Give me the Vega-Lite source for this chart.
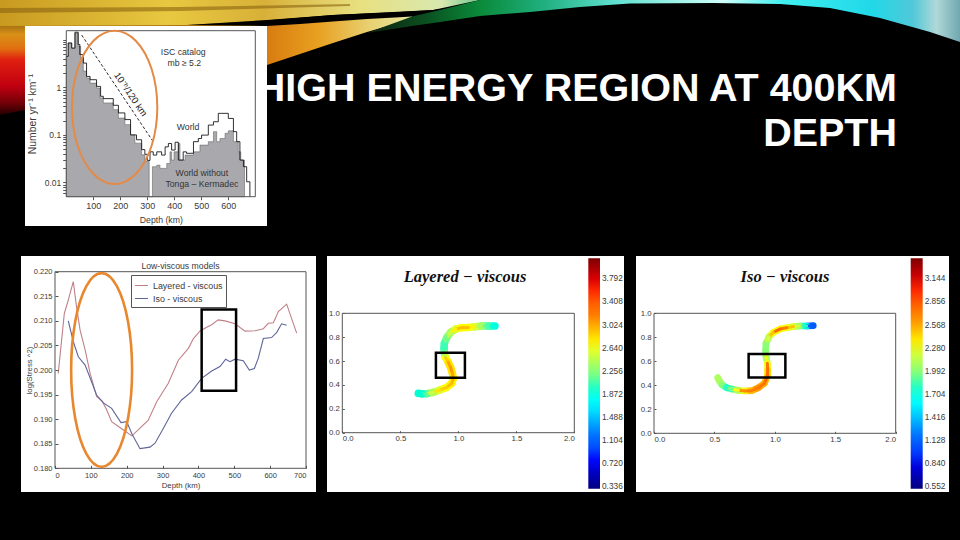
{"$schema":"https://vega.github.io/schema/vega-lite/v6.json","width":960,"height":540,"autosize":{"type":"none"},"padding":0,"background":"#000000",
"title":{"text":["HIGH ENERGY REGION AT 400KM","DEPTH"],"anchor":"end","frame":"group","orient":"top","align":"right","baseline":"alphabetic","offset":-82.5,"dx":-63,"dy":103,"font":"Liberation Sans","fontWeight":"bold","fontSize":39.5,"lineHeight":45,"color":"#ffffff"},
"config":{"view":{"stroke":null},"axis":{"grid":false,"domain":false,"labelFont":"Liberation Sans","titleFont":"Liberation Sans","labelColor":"#3a3a3a","titleColor":"#3a3a3a","tickColor":"#555555","titleFontWeight":"normal","labelFontSize":7.8,"titleFontSize":7.8},"legend":{"labelFont":"Liberation Sans"},"text":{"font":"Liberation Sans","color":"#3a3a3a"}},
"resolve":{"scale":{"x":"independent","y":"independent","color":"independent"},"axis":{"x":"independent","y":"independent"},"legend":{"color":"independent"}},
"layer":[
{"encoding":{"x":{"field":"x","type":"quantitative","scale":{"domain":[0,960],"range":[0,960]},"axis":null},"y":{"field":"y","type":"quantitative","scale":{"domain":[0,540],"range":[0,540]},"axis":null},"y2":{"field":"y2"}},
"layer":[
{"data":{"values":[{"x":0,"y":0,"y2":115},{"x":25,"y":0,"y2":110},{"x":130,"y":0,"y2":90},{"x":267,"y":0,"y2":65}]},"mark":{"type":"area","color":{"gradient":"linear","x1":0,"y1":0,"x2":0,"y2":1,"stops":[{"offset":0,"color":"#b89018"},{"offset":0.1,"color":"#e8c038"},{"offset":0.2,"color":"#9a6a10"},{"offset":0.3,"color":"#d89018"},{"offset":0.42,"color":"#e07010"},{"offset":0.52,"color":"#e02010"},{"offset":0.75,"color":"#c00010"},{"offset":0.9,"color":"#700008"},{"offset":1,"color":"#200000"}]}}},
{"data":{"values":[{"x":0,"y":0,"y2":26},{"x":187,"y":0,"y2":25},{"x":260,"y":0,"y2":21},{"x":333,"y":0,"y2":15},{"x":433,"y":0,"y2":10},{"x":480,"y":0,"y2":0}]},"mark":{"type":"area","color":{"gradient":"linear","x1":0,"y1":0,"x2":1,"y2":0,"stops":[{"offset":0,"color":"#c89a20"},{"offset":0.35,"color":"#e8c840"},{"offset":0.55,"color":"#d8b038"},{"offset":0.75,"color":"#e8e080"},{"offset":0.92,"color":"#d8e8b0"},{"offset":1,"color":"#70c890"}]}}},
{"data":{"values":[{"x":0,"y":8,"y2":13},{"x":180,"y":7,"y2":11},{"x":350,"y":4,"y2":6}]},"mark":{"type":"area","color":"#8a6410","opacity":0.6}},
{"data":{"values":[{"x":187,"y":25,"y2":25},{"x":267,"y":20,"y2":26},{"x":333,"y":15,"y2":22},{"x":400,"y":12,"y2":17},{"x":433,"y":10,"y2":15},{"x":470,"y":5,"y2":10}]},"mark":{"type":"area","color":"#000000"}},
{"data":{"values":[{"x":267,"y":26,"y2":65},{"x":300,"y":24,"y2":54},{"x":333,"y":21.5,"y2":43},{"x":367,"y":19,"y2":32},{"x":395,"y":17.5,"y2":24},{"x":412,"y":16.5,"y2":17}]},"mark":{"type":"area","color":{"gradient":"linear","x1":0,"y1":0,"x2":1,"y2":0,"stops":[{"offset":0,"color":"#d87c10"},{"offset":0.35,"color":"#e8a020"},{"offset":0.7,"color":"#e8d070"},{"offset":1,"color":"#e8e8a0"}]}}},
{"data":{"values":[{"x":367,"y":33,"y2":33},{"x":412,"y":16.5,"y2":26},{"x":440,"y":10,"y2":22},{"x":480,"y":0,"y2":16},{"x":530,"y":0,"y2":12},{"x":580,"y":0,"y2":7},{"x":630,"y":0,"y2":3.5},{"x":713,"y":0,"y2":3},{"x":780,"y":0,"y2":4},{"x":830,"y":0,"y2":8},{"x":880,"y":0,"y2":18},{"x":930,"y":0,"y2":32},{"x":960,"y":0,"y2":42}]},"mark":{"type":"area","color":{"gradient":"linear","x1":0,"y1":0,"x2":1,"y2":0,"stops":[{"offset":0,"color":"#102010"},{"offset":0.1,"color":"#0a5020"},{"offset":0.19,"color":"#0a8a3a"},{"offset":0.3,"color":"#20b080"},{"offset":0.42,"color":"#60e0d0"},{"offset":0.6,"color":"#d0fffa"},{"offset":0.7,"color":"#40f0f0"},{"offset":0.85,"color":"#20d8e8"},{"offset":0.92,"color":"#50c8d8"},{"offset":0.96,"color":"#b0d8d8"},{"offset":1,"color":"#70a8b0"}]}}},
{"data":{"values":[{"x":25,"x2":267,"y":26,"y2":226},{"x":21,"x2":316,"y":256,"y2":492},{"x":327,"x2":624,"y":256,"y2":492},{"x":636,"x2":949,"y":256,"y2":492}]},"mark":{"type":"rect","color":"#ffffff"},"encoding":{"x2":{"field":"x2"}}}
]},
{"encoding":{"x":{"field":"x","type":"quantitative","scale":{"domain":[0,700],"range":[66.3,255.3]},"axis":{"orient":"bottom","offset":-343.3,"zindex":1,"values":[100,200,300,400,500,600],"title":"Depth (km)","labelFontSize":9,"titleFontSize":8.7,"tickSize":3,"titlePadding":5}},"y":{"field":"y","type":"quantitative","scale":{"type":"log","domain":[0.005,15.6],"range":[196.7,30.7]},"axis":{"orient":"left","offset":-65.7,"zindex":1,"values":[0.006,0.007,0.008,0.009,0.01,0.02,0.03,0.04,0.05,0.06,0.07,0.08,0.09,0.1,0.2,0.3,0.4,0.5,0.6,0.7,0.8,0.9,1,2,3,4,5,6,7,8,9,10],"labelExpr":"datum.value==1?'1':datum.value==0.1?'0.1':datum.value==0.01?'0.01':''","title":"Number yr⁻¹ km⁻¹","labelFontSize":8.5,"titleFontSize":10.4,"tickSize":3,"labelOverlap":false,"titlePadding":7}}},
"layer":[
{"data":{"values":[{"x":0,"y":4.5},{"x":7,"y":8.6},{"x":20,"y":6.7},{"x":32,"y":13.9},{"x":44,"y":7.3},{"x":53,"y":4.1},{"x":63,"y":2.2},{"x":75,"y":1.57},{"x":88,"y":1.23},{"x":112,"y":0.97},{"x":125,"y":0.6},{"x":137,"y":0.47},{"x":174,"y":0.34},{"x":193,"y":0.226},{"x":217,"y":0.164},{"x":238,"y":0.1},{"x":254,"y":0.067},{"x":279,"y":0.038},{"x":291,"y":0.0275},{"x":307,"y":0.005},{"x":319,"y":0.0214},{"x":335,"y":0.023},{"x":347,"y":0.0197},{"x":372,"y":0.025},{"x":384,"y":0.044},{"x":390,"y":0.0295},{"x":399,"y":0.044},{"x":415,"y":0.066},{"x":421,"y":0.0295},{"x":440,"y":0.0376},{"x":471,"y":0.044},{"x":495,"y":0.061},{"x":526,"y":0.072},{"x":545,"y":0.117},{"x":557,"y":0.072},{"x":569,"y":0.084},{"x":588,"y":0.108},{"x":600,"y":0.122},{"x":619,"y":0.072},{"x":637,"y":0.044},{"x":646,"y":0.0295},{"x":660,"y":0.005}]},"mark":{"type":"area","interpolate":"step-after","color":"#a9a9ad","stroke":"#555555","strokeWidth":0.5},"encoding":{"y2":{"datum":0.005}}},
{"data":{"values":[{"x":0,"y":4.5},{"x":7,"y":8.6},{"x":20,"y":6.7},{"x":32,"y":14.5},{"x":44,"y":8},{"x":50,"y":4.9},{"x":63,"y":3.25},{"x":75,"y":1.7},{"x":88,"y":1.45},{"x":112,"y":1.05},{"x":127,"y":0.65},{"x":137,"y":0.58},{"x":174,"y":0.42},{"x":193,"y":0.29},{"x":217,"y":0.21},{"x":238,"y":0.1},{"x":260,"y":0.079},{"x":279,"y":0.049},{"x":291,"y":0.039},{"x":300,"y":0.029},{"x":310,"y":0.044},{"x":322,"y":0.0376},{"x":335,"y":0.044},{"x":353,"y":0.0376},{"x":366,"y":0.056},{"x":378,"y":0.066},{"x":390,"y":0.048},{"x":403,"y":0.07},{"x":415,"y":0.0295},{"x":433,"y":0.044},{"x":445,"y":0.041},{"x":471,"y":0.072},{"x":489,"y":0.084},{"x":501,"y":0.099},{"x":526,"y":0.161},{"x":545,"y":0.189},{"x":563,"y":0.284},{"x":576,"y":0.284},{"x":600,"y":0.222},{"x":619,"y":0.117},{"x":631,"y":0.072},{"x":643,"y":0.0295},{"x":656,"y":0.0214},{"x":668,"y":0.0103},{"x":680,"y":0.005}]},"mark":{"type":"line","interpolate":"step-after","color":"#1a1a1a","strokeWidth":0.9}},
{"data":{"values":[{"x":57,"y":12.6},{"x":322,"y":0.0718}]},"mark":{"type":"line","color":"#111111","strokeWidth":0.9,"strokeDash":[3,2]}},
{"data":{"values":[{"x":0,"x2":700,"y":0.005,"y2":15.6}]},"mark":{"type":"rect","fill":null,"stroke":"#555555","strokeWidth":1},"encoding":{"x2":{"field":"x2"},"y2":{"field":"y2"}}},
{"data":{"values":[{"x":433,"y":5.46,"t":"ISC catalog"},{"x":437,"y":3.2,"t":"mb ≥ 5.2"},{"x":451,"y":0.1486,"t":"World"},{"x":502,"y":0.0155,"t":"World without"},{"x":502,"y":0.00908,"t":"Tonga – Kermadec"}]},"mark":{"type":"text","fontSize":8.7,"color":"#333333"},"encoding":{"text":{"field":"t"}}},
{"data":{"values":[{"x":238,"y":0.713,"t":"10⁻ʰ/120 km"}]},"mark":{"type":"text","fontSize":9.5,"angle":56,"color":"#222222"},"encoding":{"text":{"field":"t"}}},
{"data":{"values":[{"i":0,"x":337,"y":0.38},{"i":1,"x":316,"y":0.059},{"i":2,"x":258,"y":0.0152},{"i":3,"x":179,"y":0.0092},{"i":4,"x":100,"y":0.0152},{"i":5,"x":42,"y":0.059},{"i":6,"x":21,"y":0.38},{"i":7,"x":42,"y":2.44},{"i":8,"x":100,"y":9.5},{"i":9,"x":179,"y":15.6},{"i":10,"x":258,"y":9.5},{"i":11,"x":316,"y":2.44}]},"mark":{"type":"line","interpolate":"cardinal-closed","color":"#e58a45","strokeWidth":2},"encoding":{"order":{"field":"i"}}}
]},
{"encoding":{"x":{"field":"x","type":"quantitative","scale":{"domain":[0,700],"range":[55,306]},"axis":{"orient":"bottom","offset":-71.7,"zindex":1,"values":[0,100,200,300,400,500,600,700],"title":"Depth (km)","labelFontSize":7.5,"titleFontSize":7.8,"tickSize":-3,"labelPadding":6,"titlePadding":3}},"y":{"field":"y","type":"quantitative","scale":{"domain":[0.18,0.22],"range":[468.3,271.7]},"axis":{"orient":"left","offset":-55,"zindex":1,"values":[0.18,0.185,0.19,0.195,0.2,0.205,0.21,0.215,0.22],"format":".3f","title":"log(Stress ^2)","labelFontSize":7.5,"titleFontSize":7.8,"tickSize":-3,"labelPadding":6,"titlePadding":0}}},
"layer":[
{"data":{"values":[{"x":0,"x2":700,"y":0.18,"y2":0.22}]},"mark":{"type":"rect","fill":null,"stroke":"#555555","strokeWidth":1},"encoding":{"x2":{"field":"x2"},"y2":{"field":"y2"}}},
{"data":{"values":[{"s":"Layered - viscous","x":9,"y":0.1993},{"s":"Layered - viscous","x":26,"y":0.2115},{"s":"Layered - viscous","x":37,"y":0.2142},{"s":"Layered - viscous","x":51,"y":0.218},{"s":"Layered - viscous","x":60,"y":0.2129},{"s":"Layered - viscous","x":70,"y":0.2081},{"s":"Layered - viscous","x":84,"y":0.2041},{"s":"Layered - viscous","x":98,"y":0.1993},{"s":"Layered - viscous","x":116,"y":0.1946},{"s":"Layered - viscous","x":132,"y":0.1936},{"s":"Layered - viscous","x":144,"y":0.1919},{"s":"Layered - viscous","x":158,"y":0.1895},{"s":"Layered - viscous","x":177,"y":0.1885},{"s":"Layered - viscous","x":195,"y":0.1876},{"s":"Layered - viscous","x":214,"y":0.1866},{"s":"Layered - viscous","x":232,"y":0.1878},{"s":"Layered - viscous","x":260,"y":0.1898},{"s":"Layered - viscous","x":284,"y":0.1936},{"s":"Layered - viscous","x":316,"y":0.1973},{"s":"Layered - viscous","x":344,"y":0.202},{"s":"Layered - viscous","x":372,"y":0.2044},{"s":"Layered - viscous","x":386,"y":0.2064},{"s":"Layered - viscous","x":404,"y":0.2079},{"s":"Layered - viscous","x":423,"y":0.2087},{"s":"Layered - viscous","x":437,"y":0.2092},{"s":"Layered - viscous","x":455,"y":0.2102},{"s":"Layered - viscous","x":474,"y":0.21},{"s":"Layered - viscous","x":502,"y":0.2094},{"s":"Layered - viscous","x":530,"y":0.2079},{"s":"Layered - viscous","x":558,"y":0.208},{"s":"Layered - viscous","x":581,"y":0.2084},{"s":"Layered - viscous","x":595,"y":0.2095},{"s":"Layered - viscous","x":609,"y":0.2096},{"s":"Layered - viscous","x":623,"y":0.2119},{"s":"Layered - viscous","x":646,"y":0.2134},{"s":"Layered - viscous","x":674,"y":0.2075},
{"s":"Iso - viscous","x":37,"y":0.21},{"s":"Iso - viscous","x":51,"y":0.2058},{"s":"Iso - viscous","x":65,"y":0.2027},{"s":"Iso - viscous","x":84,"y":0.201},{"s":"Iso - viscous","x":102,"y":0.1976},{"s":"Iso - viscous","x":116,"y":0.1949},{"s":"Iso - viscous","x":135,"y":0.1933},{"s":"Iso - viscous","x":158,"y":0.1922},{"s":"Iso - viscous","x":184,"y":0.1893},{"s":"Iso - viscous","x":200,"y":0.1895},{"s":"Iso - viscous","x":214,"y":0.1871},{"s":"Iso - viscous","x":237,"y":0.184},{"s":"Iso - viscous","x":265,"y":0.1843},{"s":"Iso - viscous","x":279,"y":0.1851},{"s":"Iso - viscous","x":302,"y":0.1881},{"s":"Iso - viscous","x":325,"y":0.1912},{"s":"Iso - viscous","x":353,"y":0.1939},{"s":"Iso - viscous","x":381,"y":0.1956},{"s":"Iso - viscous","x":409,"y":0.1983},{"s":"Iso - viscous","x":437,"y":0.1998},{"s":"Iso - viscous","x":460,"y":0.2007},{"s":"Iso - viscous","x":476,"y":0.2022},{"s":"Iso - viscous","x":488,"y":0.2017},{"s":"Iso - viscous","x":502,"y":0.2022},{"s":"Iso - viscous","x":525,"y":0.2019},{"s":"Iso - viscous","x":542,"y":0.2},{"s":"Iso - viscous","x":556,"y":0.2003},{"s":"Iso - viscous","x":567,"y":0.2024},{"s":"Iso - viscous","x":581,"y":0.2064},{"s":"Iso - viscous","x":604,"y":0.2066},{"s":"Iso - viscous","x":618,"y":0.2076},{"s":"Iso - viscous","x":632,"y":0.2094},{"s":"Iso - viscous","x":646,"y":0.2091}]},"mark":{"type":"line","strokeWidth":1.1},"encoding":{"color":{"field":"s","type":"nominal","scale":{"domain":["Layered - viscous","Iso - viscous"],"range":["#c08088","#5f6599"]},"legend":{"orient":"none","legendX":131,"legendY":275,"title":null,"symbolType":"stroke","symbolSize":170,"symbolStrokeWidth":1,"labelFontSize":8.9,"labelColor":"#3a3a3a","strokeColor":"#555555","fillColor":"#ffffff","padding":3,"rowPadding":0}}}},
{"data":{"values":[{"x":350,"y":0.2212,"t":"Low-viscous models"}]},"mark":{"type":"text","fontSize":8.7},"encoding":{"text":{"field":"t"}}},
{"data":{"values":[{"x":409,"x2":505,"y":0.1958,"y2":0.2123}]},"mark":{"type":"rect","fill":null,"stroke":"#000000","strokeWidth":2.5},"encoding":{"x2":{"field":"x2"},"y2":{"field":"y2"}}},
{"data":{"values":[{"i":0,"x":215,"y":0.2},{"i":1,"x":203.6,"y":0.20985},{"i":2,"x":172.5,"y":0.21706},{"i":3,"x":130,"y":0.2197},{"i":4,"x":87.5,"y":0.21706},{"i":5,"x":56.4,"y":0.20985},{"i":6,"x":45,"y":0.2},{"i":7,"x":56.4,"y":0.19015},{"i":8,"x":87.5,"y":0.18294},{"i":9,"x":130,"y":0.1803},{"i":10,"x":172.5,"y":0.18294},{"i":11,"x":203.6,"y":0.19015}]},"mark":{"type":"line","interpolate":"cardinal-closed","color":"#e8872d","strokeWidth":2.6},"encoding":{"order":{"field":"i"}}}
]},
{"encoding":{"x":{"field":"x","type":"quantitative","scale":{"domain":[0,2],"range":[342.3,574.3]},"axis":{"orient":"bottom","offset":-107.3,"zindex":1,"values":[0,0.5,1,1.5,2],"format":".1f","title":null,"tickSize":-2,"labelPadding":4}},"y":{"field":"y","type":"quantitative","scale":{"domain":[0,1],"range":[432.7,313.3]},"axis":{"orient":"left","offset":-342.3,"zindex":1,"values":[0,0.2,0.4,0.6,0.8,1],"format":".1f","title":null,"tickSize":-2,"labelPadding":5}}},
"layer":[
{"data":{"values":[{"x":0,"x2":2,"y":0,"y2":1}]},"mark":{"type":"rect","fill":null,"stroke":"#555555","strokeWidth":1},"encoding":{"x2":{"field":"x2"},"y2":{"field":"y2"}}},
{"data":{"name":"seg1","values":[{"x":1.316,"y":0.894,"x2":1.259,"y2":0.894,"v":1.9,"c":1.9},{"x":1.259,"y":0.894,"x2":1.202,"y2":0.894,"v":2.1,"c":2.1},{"x":1.202,"y":0.894,"x2":1.144,"y2":0.888,"v":2.4,"c":2.4},{"x":1.144,"y":0.888,"x2":1.086,"y2":0.882,"v":2.6,"c":2.75},{"x":1.086,"y":0.882,"x2":1.029,"y2":0.88,"v":2.7,"c":2.95},{"x":1.029,"y":0.88,"x2":0.98,"y2":0.869,"v":2.7,"c":2.95},{"x":0.98,"y":0.869,"x2":0.934,"y2":0.841,"v":2.6,"c":2.75},{"x":0.934,"y":0.841,"x2":0.9,"y2":0.796,"v":2.4,"c":2.5},{"x":0.9,"y":0.796,"x2":0.88,"y2":0.748,"v":2.2,"c":2.2},{"x":0.88,"y":0.748,"x2":0.877,"y2":0.707,"v":2.05,"c":2.05},{"x":0.877,"y":0.707,"x2":0.88,"y2":0.665,"v":2.05,"c":2.05},{"x":0.88,"y":0.665,"x2":0.891,"y2":0.628,"v":2.3,"c":2.4},{"x":0.891,"y":0.628,"x2":0.914,"y2":0.589,"v":2.7,"c":2.9},{"x":0.914,"y":0.589,"x2":0.934,"y2":0.545,"v":2.8,"c":3.05},{"x":0.934,"y":0.545,"x2":0.949,"y2":0.497,"v":2.8,"c":3.1},{"x":0.949,"y":0.497,"x2":0.957,"y2":0.455,"v":2.8,"c":3.05},{"x":0.957,"y":0.455,"x2":0.943,"y2":0.413,"v":2.75,"c":3},{"x":0.943,"y":0.413,"x2":0.9,"y2":0.38,"v":2.75,"c":2.95},{"x":0.9,"y":0.38,"x2":0.842,"y2":0.358,"v":2.7,"c":2.9},{"x":0.842,"y":0.358,"x2":0.785,"y2":0.338,"v":2.6,"c":2.8},{"x":0.785,"y":0.338,"x2":0.727,"y2":0.327,"v":2.4,"c":2.5},{"x":0.727,"y":0.327,"x2":0.684,"y2":0.327,"v":2.1,"c":2.1},{"x":0.684,"y":0.327,"x2":0.655,"y2":0.33,"v":1.95,"c":1.95}]},"mark":{"type":"rule","strokeWidth":7.5,"strokeCap":"round"},"encoding":{"x2":{"field":"x2"},"y2":{"field":"y2"},"color":{"field":"v","type":"quantitative","scale":{"domain":[0.314,0.792,1.271,1.749,2.227,2.705,3.184,3.662,4.14],"range":["#00007f","#0000ff","#007fff","#00ffff","#7fff7f","#ffff00","#ff7f00","#ff0000","#7f0000"]},"legend":{"orient":"none","legendX":588.3,"legendY":258.3,"direction":"vertical","title":null,"gradientLength":230.4,"gradientThickness":11.7,"values":[0.336,0.72,1.104,1.488,1.872,2.256,2.64,3.024,3.408,3.792],"format":".3f","labelFontSize":8.3,"labelColor":"#3a3a3a","labelOverlap":false,"labelOffset":2,"padding":0}}}},
{"data":{"name":"seg1"},"mark":{"type":"rule","strokeWidth":3,"strokeCap":"round"},"encoding":{"x2":{"field":"x2"},"y2":{"field":"y2"},"color":{"field":"c","type":"quantitative","scale":{"domain":[0.314,0.792,1.271,1.749,2.227,2.705,3.184,3.662,4.14],"range":["#00007f","#0000ff","#007fff","#00ffff","#7fff7f","#ffff00","#ff7f00","#ff0000","#7f0000"]},"legend":null}}},
{"data":{"values":[{"x":0.807,"x2":1.057,"y":0.461,"y2":0.67}]},"mark":{"type":"rect","fill":null,"stroke":"#000000","strokeWidth":2.5},"encoding":{"x2":{"field":"x2"},"y2":{"field":"y2"}}},
{"data":{"values":[{"x":1.058,"y":1.306,"t":"Layered − viscous"}]},"mark":{"type":"text","font":"Liberation Serif","fontStyle":"italic","fontWeight":"bold","fontSize":16.5,"color":"#111111"},"encoding":{"text":{"field":"t"}}}
]},
{"encoding":{"x":{"field":"x","type":"quantitative","scale":{"domain":[0,2],"range":[654,895.7]},"axis":{"orient":"bottom","offset":-106.7,"zindex":1,"values":[0,0.5,1,1.5,2],"format":".1f","title":null,"tickSize":-2,"labelPadding":4}},"y":{"field":"y","type":"quantitative","scale":{"domain":[0,1],"range":[433.3,313.3]},"axis":{"orient":"left","offset":-654,"zindex":1,"values":[0,0.2,0.4,0.6,0.8,1],"format":".1f","title":null,"tickSize":-2,"labelPadding":5}}},
"layer":[
{"data":{"values":[{"x":0,"x2":2,"y":0,"y2":1}]},"mark":{"type":"rect","fill":null,"stroke":"#555555","strokeWidth":1},"encoding":{"x2":{"field":"x2"},"y2":{"field":"y2"}}},
{"data":{"name":"seg2","values":[{"x":1.318,"y":0.897,"x2":1.263,"y2":0.894,"v":1.1,"c":1.1},{"x":1.263,"y":0.894,"x2":1.208,"y2":0.894,"v":1.7,"c":1.8},{"x":1.208,"y":0.894,"x2":1.153,"y2":0.889,"v":2.1,"c":2.2},{"x":1.153,"y":0.889,"x2":1.098,"y2":0.88,"v":2.25,"c":2.5},{"x":1.098,"y":0.88,"x2":1.043,"y2":0.869,"v":2.3,"c":2.7},{"x":1.043,"y":0.869,"x2":0.987,"y2":0.841,"v":2.35,"c":2.8},{"x":0.987,"y":0.841,"x2":0.952,"y2":0.805,"v":2.3,"c":2.5},{"x":0.952,"y":0.805,"x2":0.927,"y2":0.75,"v":2.15,"c":2.2},{"x":0.927,"y":0.75,"x2":0.924,"y2":0.694,"v":2,"c":2},{"x":0.924,"y":0.694,"x2":0.927,"y2":0.639,"v":2,"c":2},{"x":0.927,"y":0.639,"x2":0.938,"y2":0.583,"v":2.1,"c":2.3},{"x":0.938,"y":0.583,"x2":0.941,"y2":0.528,"v":2.3,"c":2.75},{"x":0.941,"y":0.528,"x2":0.938,"y2":0.472,"v":2.4,"c":2.8},{"x":0.938,"y":0.472,"x2":0.913,"y2":0.416,"v":2.5,"c":2.8},{"x":0.913,"y":0.416,"x2":0.863,"y2":0.38,"v":2.55,"c":2.75},{"x":0.863,"y":0.38,"x2":0.808,"y2":0.355,"v":2.6,"c":2.7},{"x":0.808,"y":0.355,"x2":0.753,"y2":0.3525,"v":2.5,"c":2.7},{"x":0.753,"y":0.3525,"x2":0.698,"y2":0.358,"v":2.3,"c":2.65},{"x":0.698,"y":0.358,"x2":0.643,"y2":0.369,"v":2.1,"c":2.3},{"x":0.643,"y":0.369,"x2":0.601,"y2":0.38,"v":1.85,"c":1.95},{"x":0.601,"y":0.38,"x2":0.565,"y2":0.4025,"v":1.8,"c":1.8},{"x":0.565,"y":0.4025,"x2":0.541,"y2":0.436,"v":2,"c":2},{"x":0.541,"y":0.436,"x2":0.527,"y2":0.464,"v":2.1,"c":2.1}]},"mark":{"type":"rule","strokeWidth":6.7,"strokeCap":"round"},"encoding":{"x2":{"field":"x2"},"y2":{"field":"y2"},"color":{"field":"v","type":"quantitative","scale":{"domain":[0.535,0.894,1.253,1.612,1.971,2.329,2.688,3.047,3.406],"range":["#00007f","#0000ff","#007fff","#00ffff","#7fff7f","#ffff00","#ff7f00","#ff0000","#7f0000"]},"legend":{"orient":"none","legendX":910.7,"legendY":258.3,"direction":"vertical","title":null,"gradientLength":230.4,"gradientThickness":12,"values":[0.552,0.84,1.128,1.416,1.704,1.992,2.28,2.568,2.856,3.144],"format":".3f","labelFontSize":8.3,"labelColor":"#3a3a3a","labelOverlap":false,"labelOffset":2,"padding":0}}}},
{"data":{"name":"seg2"},"mark":{"type":"rule","strokeWidth":3,"strokeCap":"round"},"encoding":{"x2":{"field":"x2"},"y2":{"field":"y2"},"color":{"field":"c","type":"quantitative","scale":{"domain":[0.535,0.894,1.253,1.612,1.971,2.329,2.688,3.047,3.406],"range":["#00007f","#0000ff","#007fff","#00ffff","#7fff7f","#ffff00","#ff7f00","#ff0000","#7f0000"]},"legend":null}}},
{"data":{"values":[{"x":0.783,"x2":1.087,"y":0.464,"y2":0.661}]},"mark":{"type":"rect","fill":null,"stroke":"#000000","strokeWidth":2.5},"encoding":{"x2":{"field":"x2"},"y2":{"field":"y2"}}},
{"data":{"values":[{"x":1.084,"y":1.305,"t":"Iso − viscous"}]},"mark":{"type":"text","font":"Liberation Serif","fontStyle":"italic","fontWeight":"bold","fontSize":16.5,"color":"#111111"},"encoding":{"text":{"field":"t"}}}
]}
]}
